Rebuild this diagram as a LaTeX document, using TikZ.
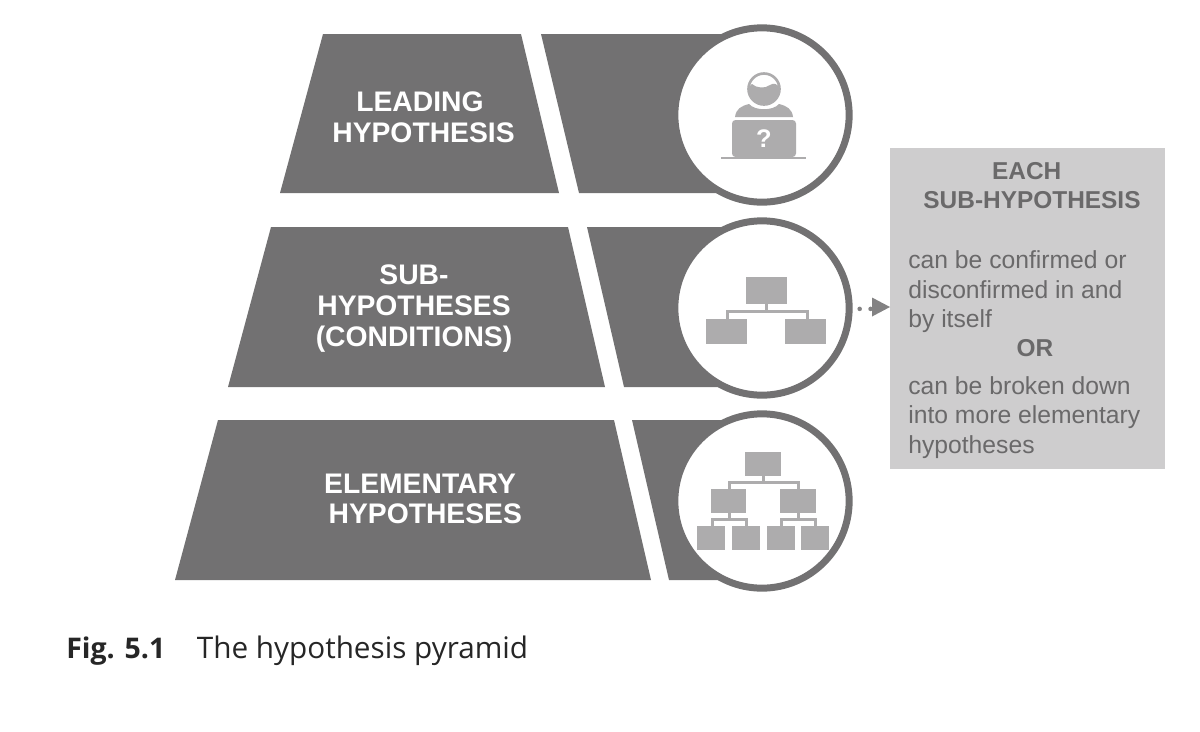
\documentclass[tikz,border=0pt]{standalone}
\usepackage{fontspec}
\setmainfont{Liberation Sans}
\newfontfamily\capfont{Open Sans}
\definecolor{dark}{HTML}{727172}
\definecolor{ring}{HTML}{727172}
\definecolor{icon}{HTML}{ADACAD}
\definecolor{panel}{HTML}{CECDCE}
\definecolor{paneltext}{HTML}{6A696A}
\definecolor{arrowgrey}{HTML}{838283}
\tikzset{
  band/.style={fill=dark,draw=none},
  disc/.style={circle,draw=ring,fill=white,line width=3.97pt,minimum size=175*0.5669pt,inner sep=0pt},
  lab/.style={text=white,font=\bfseries\fontsize{16.1pt}{17.5pt}\selectfont,align=center,inner sep=0pt},
  ptitle/.style={text=paneltext,font=\bfseries\fontsize{13.9pt}{16.6pt}\selectfont,align=center,inner sep=0pt},
  pbody/.style={text=paneltext,font=\fontsize{14.05pt}{16.8pt}\selectfont,align=left,inner sep=0pt,anchor=north west},
  ibox/.style={fill=icon,draw=none},
  iline/.style={draw=icon,line width=1.7pt},
  capt/.style={font=\capfont\fontsize{16.9pt}{19pt}\selectfont,inner sep=0pt,anchor=base west,text=black!85}
}
\begin{document}
\begin{tikzpicture}[x=0.02cm,y=-0.02cm]
\useasboundingbox (0,0) rectangle (1200,731);
% bands
\fill[band] (323,34) -- (521,34) -- (559,193) -- (280,193) -- cycle;
\fill[band] (541,34) -- (740,34) -- (740,193) -- (579,193) -- cycle;
\fill[band] (271,227) -- (568,227) -- (605,387) -- (228,387) -- cycle;
\fill[band] (587,227) -- (740,227) -- (740,387) -- (624,387) -- cycle;
\fill[band] (218,420) -- (614,420) -- (651,580) -- (175,580) -- cycle;
\fill[band] (632,420) -- (740,420) -- (740,580) -- (669,580) -- cycle;
% circles
\node[disc] (c1) at (762,115) {};
\node[disc] (c2) at (762,308) {};
\node[disc] (c3) at (762,501) {};
% labels
\node[lab] (l1) at (423.5,117.5) {\hspace*{-4pt}LEADING\\HYPOTHESIS};
\node[lab] (l2) at (414,308.5) {SUB-\\HYPOTHESES\\(CONDITIONS)};
\node[lab] (l3) at (420,499) {ELEMENTARY\\\hspace*{6pt}HYPOTHESES};
% icon 1
\draw[icon,line width=1.5pt,fill=white] (764,89) circle (15.5);
\fill[icon] (748,89) arc (180:0:16) .. controls (778,83) and (773,83) .. (770,85) .. controls (765,89) and (756,88) .. (752,84) .. controls (750,85) and (749,87) .. (748,89) -- cycle;
\fill[icon] (735,117) .. controls (736,109) and (741,106) .. (749,104) .. controls (755,111) and (773,111) .. (779,104) .. controls (787,106) and (792,109) .. (793,117) -- cycle;
\fill[icon,rounded corners=2pt] (732,157) -- (732,120) -- (796,120) -- (796,157) -- cycle;
\draw[iline,line width=1pt] (721,158) -- (806,158);
\node[text=white,font=\bfseries\fontsize{14.5pt}{14.5pt}\selectfont,inner sep=0pt] (q) at (764,139) {?};
% icon 2
\fill[ibox] (746,277) rectangle (787,304);
\fill[ibox] (706,319) rectangle (747,344);
\fill[ibox] (785,319) rectangle (826,344);
\draw[iline] (766,304) -- (766,311);
\draw[iline] (727,319) -- (727,311) -- (807,311) -- (807,319);
% icon 3
\fill[ibox] (745,452) rectangle (781,476);
\fill[ibox] (711,489) rectangle (746,513);
\fill[ibox] (780,489) rectangle (816,513);
\fill[ibox] (697,526) rectangle (725,550);
\fill[ibox] (732,526) rectangle (760,550);
\fill[ibox] (767,526) rectangle (795,550);
\fill[ibox] (801,526) rectangle (829,550);
\draw[iline] (763,476) -- (763,482);
\draw[iline] (729,489) -- (729,482) -- (798,482) -- (798,489);
\draw[iline] (729,513) -- (729,519);
\draw[iline] (712,526) -- (712,519) -- (746,519) -- (746,526);
\draw[iline] (798,513) -- (798,519);
\draw[iline] (781,526) -- (781,519) -- (815,519) -- (815,526);
% panel
\node[fill=panel,inner sep=0pt,minimum width=275.5*0.5669pt,minimum height=322*0.5669pt] (p) at (1027.5,308.5) {};
\node[ptitle] (pt) at (1032,186) {\hspace*{-6pt}EACH\\SUB-HYPOTHESIS};
\node[pbody] (b1) at (908,250.5) {can be confirmed or\\disconfirmed in and\\by itself};
\node[ptitle] (or) at (1035,348) {OR};
\node[pbody] (b2) at (908,376) {can be broken down\\into more elementary\\hypotheses};
% connector
\coordinate (a0) at (c2.east);
\draw[arrowgrey,line width=2.6pt,line cap=round,dash pattern=on 0pt off 6.2pt] ([xshift=4pt,yshift=-0.5pt]a0) -- ([xshift=-9pt,yshift=-0.5pt]p.west |- a0);
\fill[arrowgrey] (890,307) -- (872,297.5) -- (872,316.5) -- cycle;
% caption
\node[capt] (cap) at (66,658) {\fontsize{16.2pt}{19pt}\selectfont\textbf{Fig. 5.1}\fontsize{16.9pt}{19pt}\selectfont\hspace{18pt}The hypothesis pyramid};
\end{tikzpicture}
\end{document}
